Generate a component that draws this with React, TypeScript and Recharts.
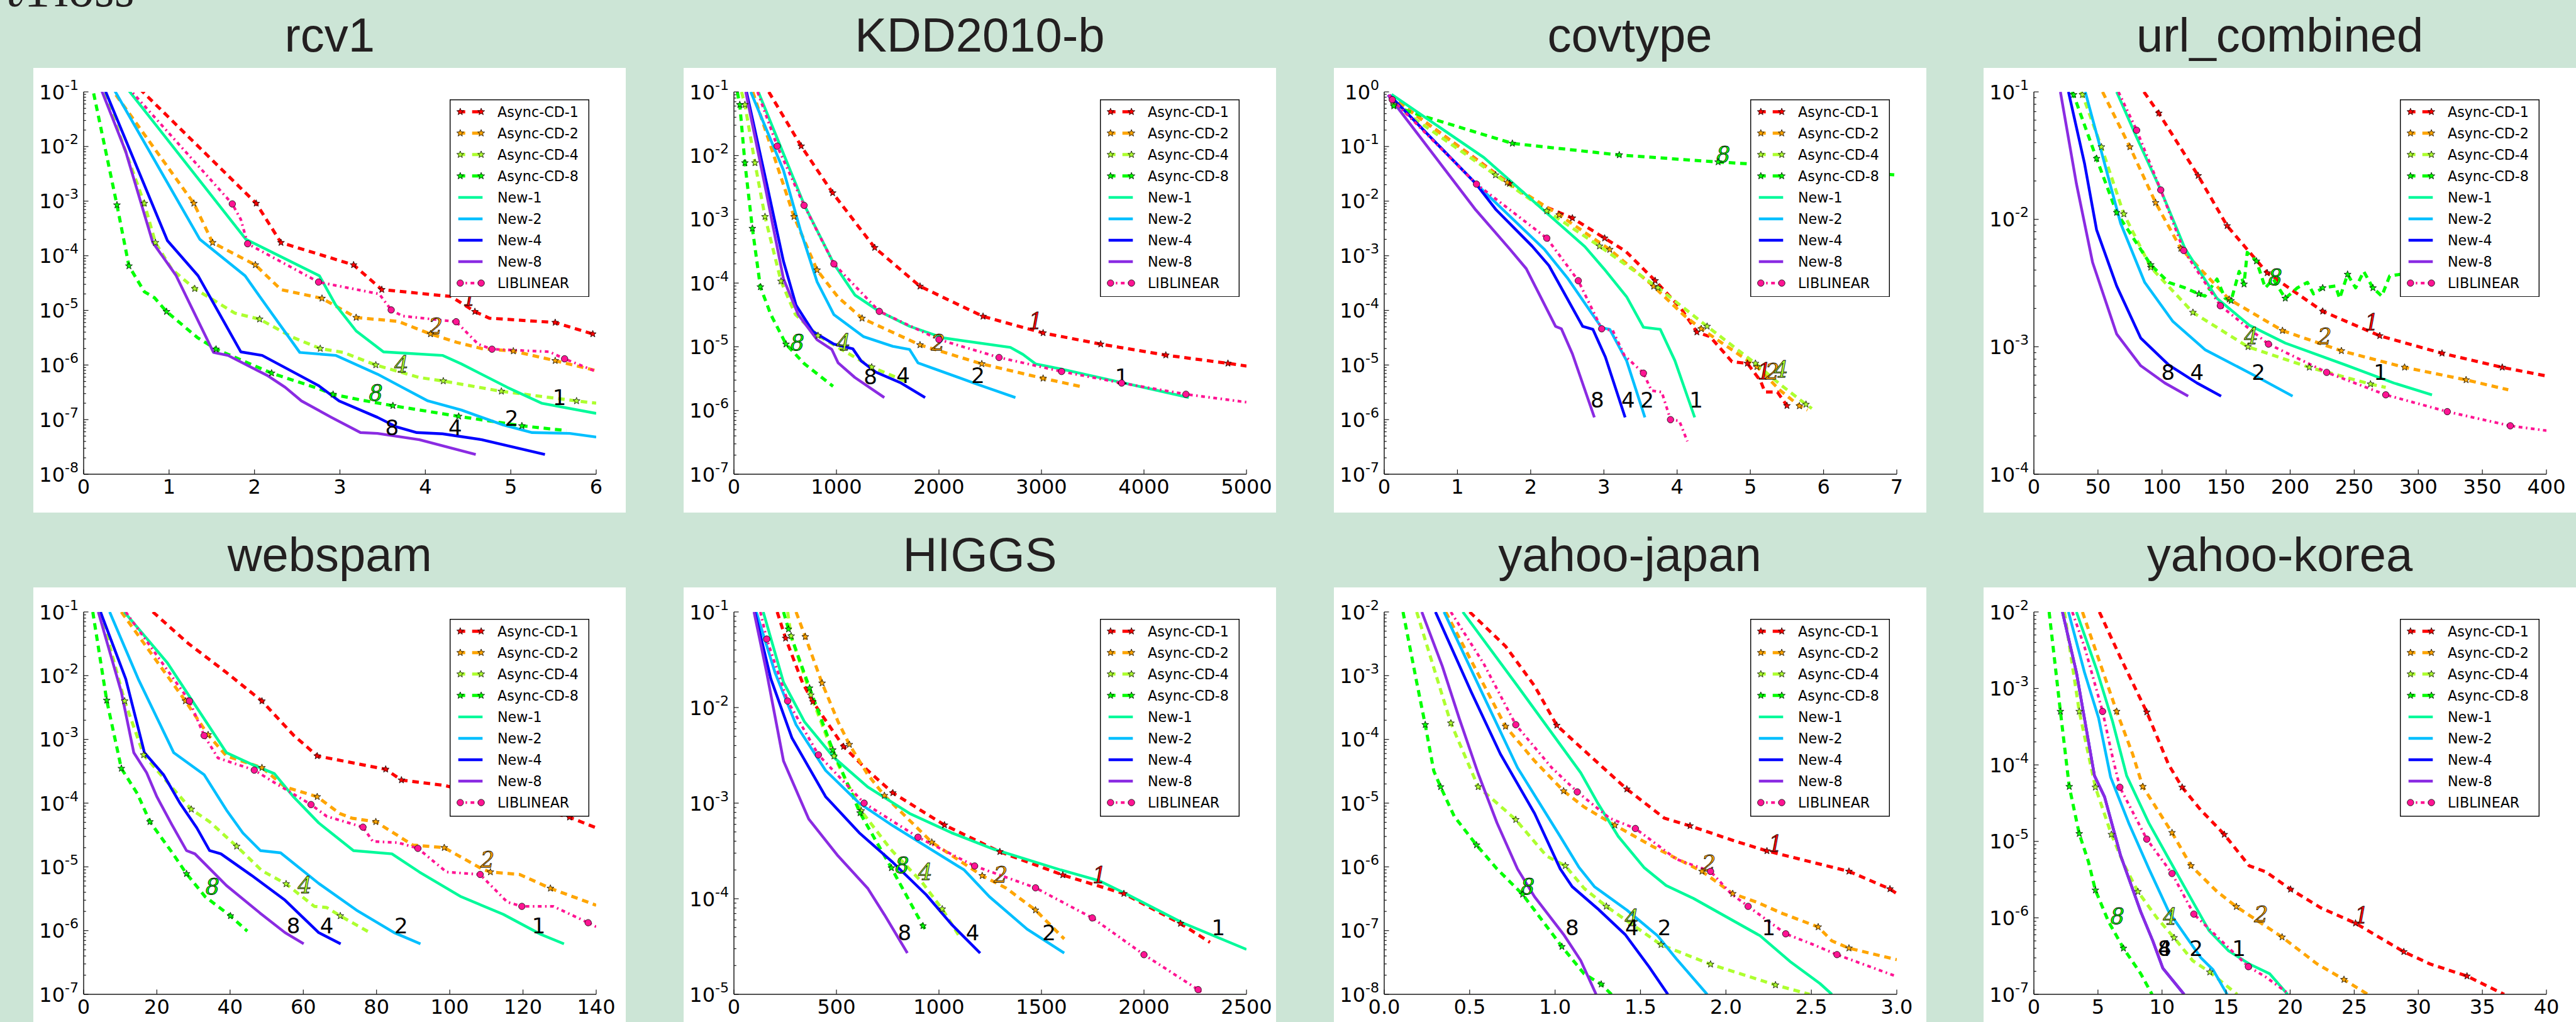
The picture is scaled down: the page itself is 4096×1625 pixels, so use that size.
import React from 'react';
import { LineChart, Line, XAxis, YAxis, Legend, ReferenceDot } from 'recharts';

type P = [number, number, number?];
type Note = [string, number, number];

// ---------------- rcv1 ----------------
const rcv1_xTicks = [0, 1, 2, 3, 4, 5, 6];
const rcv1_xLabels = ['0', '1', '2', '3', '4', '5', '6'];
const rcv1_A1: P[] = [[0.56,0.16],[2.02,9.1e-4,1],[2.31,1.74e-4,1],[3.16,6.8e-5,1],[3.49,2.4e-5,1],[4.30,1.8e-5],[4.58,9.5e-6,1],[4.75,7.2e-6],[5.52,6.0e-6,1],[5.96,3.7e-6,1],[6.1,3.2e-6]];
const rcv1_A2: P[] = [[0.3,0.13],[1.29,9.1e-4,1],[1.51,1.74e-4,1],[2.01,6.8e-5,1],[2.31,2.4e-5],[2.79,1.66e-5,1],[3.19,7.4e-6,1],[3.68,6.3e-6],[4.06,3.7e-6,1],[4.37,2.6e-6],[4.66,2.0e-6],[5.03,1.8e-6,1],[5.52,1.2e-6,1],[6.0,7.9e-7]];
const rcv1_A4: P[] = [[0.2,0.15],[0.71,9.1e-4,1],[0.84,1.74e-4,1],[1.03,5.7e-5],[1.30,2.5e-5,1],[1.77,8.9e-6],[2.06,6.9e-6,1],[2.45,3.2e-6],[2.77,2.0e-6,1],[3.04,1.7e-6],[3.42,1.0e-6,1],[3.93,5.9e-7],[4.21,5.1e-7,1],[4.89,3.3e-7,1],[5.77,2.2e-7,1],[6.0,2.0e-7]];
const rcv1_A8: P[] = [[0.09,0.15],[0.39,8.5e-4,1],[0.53,6.5e-5,1],[0.71,2.2e-5],[0.83,1.7e-5],[0.97,9.5e-6,1],[1.33,3.2e-6],[1.55,1.95e-6,1],[2.20,7.1e-7,1],[2.75,3.7e-7],[2.92,2.9e-7,1],[3.24,2.3e-7],[3.62,1.8e-7,1],[4.39,1.15e-7,1],[5.13,7.7e-8,1],[5.65,6.3e-8]];
const rcv1_N1: P[] = [[0.49,0.126],[1.90,2.0e-4],[2.76,4.3e-5],[2.95,1.26e-5],[3.19,4.2e-6],[3.51,1.74e-6],[4.20,1.5e-6],[4.42,1.05e-6],[4.96,3.9e-7],[5.36,2.0e-7],[6.0,1.3e-7]];
const rcv1_N2: P[] = [[0.33,0.13],[1.36,2.0e-4],[1.89,4.3e-5],[2.06,1.8e-5],[2.53,1.7e-6],[2.95,1.5e-6],[3.44,6.8e-7],[3.73,3.9e-7],[4.03,2.2e-7],[4.42,1.5e-7],[4.91,8.0e-8],[5.25,5.8e-8],[5.69,5.6e-8],[6.0,4.8e-8]];
const rcv1_N4: P[] = [[0.22,0.14],[0.98,1.9e-4],[1.34,4.3e-5],[1.84,1.74e-6],[2.09,1.5e-6],[2.50,6.8e-7],[2.75,4.2e-7],[2.99,2.2e-7],[3.44,1.1e-7],[3.66,7.4e-8],[3.90,5.8e-8],[4.20,5.5e-8],[4.66,4.3e-8],[5.40,2.3e-8]];
const rcv1_N8: P[] = [[0.18,0.14],[0.49,8.3e-3],[0.81,1.74e-4],[1.08,4.4e-5],[1.52,1.7e-6],[1.69,1.5e-6],[2.16,6.3e-7],[2.36,3.9e-7],[2.55,2.2e-7],[2.90,1.1e-7],[3.24,5.8e-8],[3.44,5.6e-8],[3.93,4.3e-8],[4.59,2.3e-8]];
const rcv1_L: P[] = [[0.52,0.12],[1.74,8.9e-4,1],[1.84,4.6e-4],[1.92,1.66e-4,1],[2.75,3.3e-5,1],[3.46,2.0e-5],[3.60,1.02e-5,1],[3.73,7.9e-6],[4.36,6.2e-6,1],[4.62,2.4e-6],[4.78,1.95e-6,1],[5.45,1.75e-6],[5.63,1.3e-6,1],[6.0,7.6e-7]];
const rcv1_notes: Note[] = [['A1',4.52,1.66e-5],['A2',4.12,5.1e-6],['A4',3.72,1.02e-6],['A8',3.42,3.1e-7],['N1',5.57,2.57e-7],['N2',5.01,1.05e-7],['N4',4.35,7.2e-8],['N8',3.61,7.2e-8]];

// ---------------- KDD2010-b ----------------
const kdd_xTicks = [0, 1000, 2000, 3000, 4000, 5000];
const kdd_xLabels = ['0', '1000', '2000', '3000', '4000', '5000'];
const kdd_A1: P[] = [[340,0.1],[656,1.41e-2,1],[963,2.6e-3,1],[1373,3.6e-4,1],[1815,8.9e-5,1],[2430,3.0e-5,1],[3016,1.65e-5,1],[3578,1.1e-5,1],[4213,7.4e-6,1],[4819,5.5e-6,1],[5000,5.0e-6]];
const kdd_A2: P[] = [[184,0.1],[586,1.1e-3,1],[811,1.6e-4,1],[1016,6.0e-5],[1250,2.8e-5,1],[1815,1.07e-5,1],[2418,5.4e-6,1],[3016,3.2e-6,1],[3373,2.4e-6]];
const kdd_A4: P[] = [[74,0.1],[107,6.3e-2,1],[205,7.7e-3,1],[303,1.1e-3,1],[459,1.07e-4,1],[600,3.2e-5],[820,1.5e-5,1],[1344,4.8e-6,1],[1692,2.8e-6]];
const kdd_A8: P[] = [[33,0.1],[57,6.3e-2,1],[107,7.7e-3,1],[180,7.2e-4,1],[258,8.7e-5,1],[360,3.2e-5],[508,1.1e-5,1],[688,5.4e-6],[967,2.4e-6]];
const kdd_N1: P[] = [[238,0.1],[688,1.66e-3],[975,2.0e-4],[1180,6.5e-5],[1418,3.6e-5],[1713,2.1e-5],[2041,1.38e-5],[2697,9.8e-6],[2819,7.6e-6],[2942,5.4e-6],[3188,4.5e-6],[3762,2.8e-6],[4438,1.6e-6]];
const kdd_N2: P[] = [[164,0.1],[483,5.9e-3],[647,6.9e-4],[811,1.05e-4],[975,3.2e-5],[1262,1.45e-5],[1549,1.02e-5],[1713,9.1e-6],[1795,5.6e-6],[1959,4.5e-6],[2369,2.6e-6],[2746,1.6e-6]];
const kdd_N4: P[] = [[123,0.1],[320,3.6e-3],[483,2.2e-4],[606,4.5e-5],[770,1.74e-5],[975,1.1e-5],[1160,9.3e-6],[1242,6.0e-6],[1385,4.0e-6],[1631,2.7e-6],[1865,1.6e-6]];
const kdd_N8: P[] = [[115,0.1],[299,3.6e-3],[483,1.17e-4],[627,3.2e-5],[811,1.29e-5],[955,9.1e-6],[1016,5.6e-6],[1180,3.3e-6],[1467,1.6e-6]];
const kdd_L: P[] = [[230,0.1],[422,1.41e-2,1],[684,1.66e-3,1],[975,2.0e-4,1],[1418,3.6e-5,1],[2000,1.3e-5,1],[2586,6.8e-6,1],[3196,4.1e-6,1],[3782,2.7e-6,1],[4409,1.8e-6,1],[5000,1.35e-6]];
const kdd_notes: Note[] = [['A1',2943,2.5e-5],['A2',1992,1.15e-5],['A4',1070,1.17e-5],['A8',619,1.17e-5],['N1',3782,3.4e-6],['N2',2381,3.55e-6],['N4',1651,3.55e-6],['N8',1332,3.4e-6]];

// ---------------- covtype ----------------
const cov_xTicks = [0, 1, 2, 3, 4, 5, 6, 7];
const cov_xLabels = ['0', '1', '2', '3', '4', '5', '6', '7'];
const cov_A1: P[] = [[0.07,0.85],[1.71,2.1e-2,1],[2.1,9.0e-3],[2.57,4.9e-3,1],[3.01,2.1e-3,1],[3.3,1.2e-3],[3.70,3.5e-4,1],[4.05,1.1e-4],[4.27,4.0e-5,1],[4.45,3.3e-5],[4.75,1.15e-5],[4.96,1.07e-5,1],[5.14,5.1e-6],[5.20,3.2e-6],[5.37,3.2e-6],[5.50,1.8e-6,1]];
const cov_A2: P[] = [[0.07,0.85],[1.68,2.2e-2,1],[2.39,5.6e-3,1],[3.08,1.3e-3,1],[3.68,2.75e-4,1],[4.1,8.0e-5],[4.33,4.6e-5,1],[4.6,2.6e-5],[5.09,9.3e-6,1],[5.4,3.5e-6],[5.67,1.78e-6,1],[5.78,1.5e-6]];
const cov_A4: P[] = [[0.07,0.85],[0.13,0.59,1],[1.52,3.0e-2,1],[2.22,6.6e-3,1],[2.94,1.5e-3,1],[3.74,2.6e-4,1],[4.41,5.1e-5,1],[5.07,1.07e-5,1],[5.4,4.5e-6],[5.76,1.9e-6,1],[5.84,1.6e-6]];
const cov_A8: P[] = [[0.07,0.85],[0.13,0.55,1],[0.45,0.39],[1.75,0.114,1],[3.21,0.07,1],[4.56,0.052,1],[5.0,0.048],[7.0,0.03]];
const cov_N1: P[] = [[0.10,0.9],[1.36,6.3e-2],[2.74,1.47e-3],[3.0,5.8e-4],[3.31,1.78e-4],[3.54,4.9e-5],[3.77,4.5e-5],[3.97,1.2e-5],[4.24,1.1e-6]];
const cov_N2: P[] = [[0.07,0.88],[1.25,2.1e-2],[2.19,1.3e-3],[2.51,3.8e-4],[2.97,4.8e-5],[3.08,4.5e-5],[3.31,1.2e-5],[3.56,1.1e-6]];
const cov_N4: P[] = [[0.07,0.88],[1.25,2.1e-2],[1.53,6.9e-3],[2.02,1.5e-3],[2.25,6.6e-4],[2.71,5.1e-5],[2.85,4.5e-5],[3.02,1.4e-5],[3.29,1.1e-6]];
const cov_N8: P[] = [[0.05,0.88],[1.25,6.9e-3],[1.71,1.35e-3],[1.94,5.8e-4],[2.34,5.1e-5],[2.42,4.6e-5],[2.57,1.6e-5],[2.87,1.1e-6]];
const cov_L: P[] = [[0.07,0.88],[0.11,0.72,1],[1.26,2.05e-2,1],[2.22,2.1e-3,1],[2.65,3.5e-4,1],[2.97,4.6e-5,1],[3.12,4.3e-5],[3.28,1.5e-5],[3.54,7.1e-6,1],[3.65,3.4e-6],[3.79,3.2e-6],[3.91,1.0e-6,1],[4.03,9.5e-7],[4.14,4.0e-7]];
const cov_notes: Note[] = [['A8',4.63,0.071],['A1',5.19,7.6e-6],['A2',5.30,7.6e-6],['A4',5.42,8.1e-6],['N8',2.91,2.3e-6],['N4',3.33,2.3e-6],['N2',3.59,2.3e-6],['N1',4.26,2.3e-6]];

// ---------------- url_combined ----------------
const url_xTicks = [0, 50, 100, 150, 200, 250, 300, 350, 400];
const url_xLabels = ['0', '50', '100', '150', '200', '250', '300', '350', '400'];
const url_A1: P[] = [[85.9,0.1],[97.5,6.8e-2,1],[128.2,2.2e-2,1],[150.8,8.9e-3,1],[182.1,3.8e-3,1],[225.4,1.9e-3,1],[269.9,1.22e-3,1],[318.5,8.9e-4,1],[365.5,6.9e-4,1],[400,5.9e-4]];
const url_A2: P[] = [[53.6,0.1],[74.9,3.7e-2,1],[95,1.35e-2,1],[114.7,5.9e-3,1],[152.4,2.36e-3,1],[194,1.34e-3,1],[240,9.3e-4,1],[289.3,6.9e-4,1],[337.3,5.5e-4,1],[370.2,4.6e-4]];
const url_A4: P[] = [[36.5,0.1],[37.9,9.5e-2,1],[52.7,3.7e-2,1],[70.2,1.1e-2,1],[91.2,4.2e-3,1],[124.1,1.86e-3,1],[167.1,1.0e-3,1],[215,6.9e-4,1],[262.7,5.1e-4,1],[274.6,4.8e-4]];
const url_A8: P[] = [[29.5,0.1],[31,9.5e-2,1],[48.9,3.0e-2,1],[64.6,1.13e-2,1],[91.2,4.4e-3,1],[105.3,3.2e-3],[117.9,2.9e-3],[128.8,2.6e-3,1],[133.5,2.5e-3],[142.9,3.4e-3],[149.2,2.4e-3],[153.9,2.3e-3,1],[160.2,3.9e-3],[164,3.1e-3,1],[166.5,5.5e-3],[173.7,4.7e-3,1],[180.6,2.9e-3],[186.8,3.4e-3],[196.2,2.4e-3,1],[205.6,2.9e-3],[213.5,3.2e-3],[218.2,2.6e-3],[225.4,2.9e-3,1],[235.4,3.0e-3],[238.6,2.4e-3],[244.8,3.7e-3,1],[251.1,2.9e-3],[257.4,3.9e-3],[264.6,2.9e-3,1],[271.5,2.5e-3],[277.7,3.6e-3],[285.6,3.7e-3],[300,3.5e-3]];
const url_N1: P[] = [[64.6,0.1],[80.2,4.4e-2],[99,1.7e-2],[117.9,5.9e-3],[142.9,2.4e-3],[168,1.48e-3],[196.2,1.07e-3],[243.3,7.2e-4],[280.9,5.2e-4],[310.7,4.2e-4]];
const url_N2: P[] = [[40.1,0.1],[52,3.6e-2],[67.7,9.3e-3],[86.5,3.2e-3],[108.5,1.58e-3],[133.5,9.5e-4],[174.3,5.8e-4],[201.9,4.1e-4]];
const url_N4: P[] = [[27,0.1],[39.5,2.75e-2],[48.9,8.3e-3],[64.6,3.0e-3],[83.4,1.17e-3],[105.3,7.2e-4],[127.3,5.2e-4],[146.1,4.1e-4]];
const url_N8: P[] = [[20.7,0.1],[33.2,1.9e-2],[45.8,4.6e-3],[64.6,1.26e-3],[83.4,7.1e-4],[102.2,5.2e-4],[120.4,4.1e-4]];
const url_L: P[] = [[66,0.1],[80.2,5.0e-2,1],[99,1.7e-2,1],[116.9,5.7e-3,1],[145.5,2.1e-3,1],[183.1,1.05e-3,1],[228.5,6.3e-4,1],[274.6,4.2e-4,1],[322.6,3.1e-4,1],[371.8,2.4e-4,1],[400,2.2e-4]];
const url_notes: Note[] = [['A1',263.6,1.55e-3],['A2',227,1.2e-3],['A4',169.6,1.2e-3],['A8',188.4,3.5e-3],['N1',270.5,6.3e-4],['N2',175.2,6.3e-4],['N4',127.3,6.3e-4],['N8',104.7,6.3e-4]];

// ---------------- webspam ----------------
const web_xTicks = [0, 20, 40, 60, 80, 100, 120, 140];
const web_xLabels = ['0', '20', '40', '60', '80', '100', '120', '140'];
const web_A1: P[] = [[18.9,0.1],[28.6,3.2e-2],[39,1.12e-2],[48.7,4.0e-3,1],[57.3,1.17e-3],[63.8,5.5e-4,1],[82.5,3.4e-4,1],[86.8,2.3e-4,1],[98.5,1.9e-4],[132.7,6.0e-5,1],[140,4.1e-5]];
const web_A2: P[] = [[10.3,0.1],[27.8,4.0e-3,1],[34,1.18e-3,1],[39,5.5e-4],[48.7,3.6e-4,1],[55,1.8e-4],[63.8,1.26e-4,1],[69.9,6.9e-5],[73.3,5.8e-5],[79.8,5.1e-5,1],[89.9,2.2e-5],[98.5,2.0e-5,1],[108.8,9.3e-6],[111.1,8.3e-6,1],[119.1,7.6e-6],[127.5,4.6e-6,1],[140,2.5e-6]];
const web_A4: P[] = [[4.6,0.1],[11.2,4.0e-3,1],[16.4,5.7e-4,1],[25.2,1.5e-4],[29.4,8.0e-5,1],[34.4,5.1e-5],[41.8,2.1e-5,1],[48.7,8.7e-6],[55.3,5.4e-6,1],[63,2.4e-6],[66.4,2.3e-6],[70.1,1.7e-6,1],[78.2,9.3e-7]];
const web_A8: P[] = [[2.5,0.1],[6.3,4.1e-3,1],[10.3,3.5e-4,1],[14.7,1.4e-4],[18.1,5.1e-5,1],[24.1,1.7e-5],[28.1,7.8e-6,1],[33.2,3.4e-6],[40.1,1.7e-6,1],[44.7,9.8e-7]];
const web_N1: P[] = [[11.1,0.1],[22.9,1.58e-2],[39,6.2e-4],[45.8,4.1e-4],[52.1,2.9e-4],[57.3,1.26e-4],[64.2,4.9e-5],[73.7,1.8e-5],[84.2,1.6e-5],[91.7,8.3e-6],[103.1,3.4e-6],[114.6,1.8e-6],[124.9,8.7e-7],[131.2,6.2e-7]];
const web_N2: P[] = [[7.1,0.1],[14.9,8.9e-3],[24.6,6.2e-4],[32.9,2.8e-4],[39,7.8e-5],[43.5,3.4e-5],[48.3,1.8e-5],[53.8,1.66e-5],[64.2,5.5e-6],[74.5,2.1e-6],[84.8,9.3e-7],[92,6.2e-7]];
const web_N4: P[] = [[4.6,0.1],[11.5,8.9e-3],[16.6,6.2e-4],[21.8,2.8e-4],[26.3,1.0e-4],[30.9,4.1e-5],[34.4,1.8e-5],[37.5,1.6e-5],[45.8,7.4e-6],[55,3.0e-6],[64.2,9.3e-7],[70.2,6.2e-7]];
const web_N8: P[] = [[4.0,0.1],[10.3,5.5e-3],[13.7,6.2e-4],[17.2,3.0e-4],[20,1.26e-4],[24.1,4.6e-5],[28.1,1.8e-5],[30.4,1.6e-5],[39,5.1e-6],[48.1,1.9e-6],[55,9.3e-7],[60.1,6.2e-7]];
const web_L: P[] = [[11.5,0.1],[28.9,4.0e-3,1],[32.9,1.15e-3,1],[36.7,5.1e-4],[46.6,3.3e-4,1],[52.7,2.0e-4],[62.1,9.5e-5,1],[66.4,6.2e-5],[76.3,4.2e-5,1],[79,2.5e-5],[85.9,2.4e-5],[91.3,1.95e-5,1],[99.1,8.3e-6],[108.3,7.6e-6,1],[115.7,2.8e-6],[119.7,2.4e-6,1],[128.3,2.4e-6],[137.8,1.33e-6,1],[140,1.15e-6]];
const web_notes: Note[] = [['A2',110.3,1.29e-5],['A4',60.4,5.1e-6],['A8',35.2,4.9e-6],['N1',124.3,1.2e-6],['N2',86.7,1.2e-6],['N4',66.4,1.2e-6],['N8',57.3,1.2e-6]];

// ---------------- HIGGS ----------------
const hig_xTicks = [0, 500, 1000, 1500, 2000, 2500];
const hig_xLabels = ['0', '500', '1000', '1500', '2000', '2500'];
const hig_A1: P[] = [[211,0.1],[252,5.3e-2,1],[334,1.83e-2],[385,1.15e-2,1],[535,3.9e-3,1],[652,2.2e-3],[775,1.28e-3,1],[1027,5.9e-4,1],[1297,3.1e-4,1],[1604,1.77e-4,1],[1768,1.38e-4],[1902,1.13e-4,1],[2178,5.5e-5,1],[2322,3.5e-5]];
const hig_A2: P[] = [[303,0.1],[348,5.5e-2,1],[430,1.8e-2,1],[508,7.1e-3],[563,4.1e-3,1],[652,2.0e-3],[734,1.2e-3,1],[965,3.9e-4,1],[1211,1.74e-4,1],[1328,1.29e-4],[1471,7.6e-5,1],[1611,3.8e-5]];
const hig_A4: P[] = [[262,0.1],[279,5.6e-2,1],[375,1.35e-2,1],[488,3.1e-3,1],[621,8.3e-4,1],[764,3.3e-4],[918,1.48e-4],[1016,7.8e-5,1],[1098,4.1e-5]];
const hig_A8: P[] = [[242,0.1],[266,6.6e-2,1],[369,1.6e-2,1],[482,3.6e-3,1],[615,7.9e-4,1],[768,2.1e-4,1],[922,5.2e-5,1],[938,4.6e-5]];
const hig_N1: P[] = [[143,0.1],[242,1.83e-2],[344,7.1e-3],[488,3.0e-3],[652,1.48e-3],[857,7.8e-4],[1061,4.9e-4],[1266,3.3e-4],[1594,2.0e-4],[1779,1.55e-4],[1922,1.1e-4],[2188,5.6e-5],[2500,2.95e-5]];
const hig_N2: P[] = [[109,0.1],[201,2.3e-2],[303,6.6e-3],[447,2.2e-3],[611,1.0e-3],[775,5.8e-4],[959,3.3e-4],[1123,2.0e-4],[1246,1.05e-4],[1430,4.8e-5],[1611,2.7e-5]];
const hig_N4: P[] = [[102,0.1],[180,2.0e-2],[283,4.8e-3],[447,1.17e-3],[611,4.9e-4],[775,2.4e-4],[938,1.1e-4],[1061,5.4e-5],[1201,2.7e-5]];
const hig_N8: P[] = [[98,0.1],[160,2.3e-2],[242,2.75e-3],[365,6.8e-4],[508,2.8e-4],[652,1.29e-4],[734,6.8e-5],[846,2.7e-5]];
const hig_L: P[] = [[129,0.1],[160,5.2e-2,1],[262,1.17e-2,1],[412,3.2e-3,1],[635,1.0e-3,1],[898,4.4e-4,1],[1174,2.2e-4,1],[1471,1.3e-4,1],[1748,6.3e-5,1],[2000,2.6e-5,1],[2264,1.12e-5,1],[2291,1.0e-5]];
const hig_notes: Note[] = [['A1',1783,1.74e-4],['A2',1301,1.78e-4],['A4',934,1.9e-4],['A8',820,2.24e-4],['N1',2363,5.0e-5],['N2',1537,4.4e-5],['N4',1164,4.4e-5],['N8',832,4.4e-5]];

// ---------------- yahoo-japan ----------------
const jp_xTicks = [0, 0.5, 1, 1.5, 2, 2.5, 3];
const jp_xLabels = ['0.0', '0.5', '1.0', '1.5', '2.0', '2.5', '3.0'];
const jp_A1: P[] = [[0.5,1e-2],[0.71,2.9e-3],[0.88,6.9e-4],[1.01,1.66e-4,1],[1.12,8.9e-5],[1.32,2.9e-5],[1.42,1.66e-5,1],[1.64,5.8e-6],[1.79,4.4e-6,1],[2.06,2.5e-6],[2.24,1.78e-6,1],[2.72,8.5e-7,1],[2.96,4.5e-7,1],[3.0,3.8e-7]];
const jp_A2: P[] = [[0.36,1e-2],[0.71,1.6e-4,1],[0.88,4.6e-5],[1.05,1.55e-5,1],[1.17,8.7e-6],[1.35,4.5e-6,1],[1.57,2.1e-6],[1.86,8.5e-7,1],[2.04,3.8e-7,1],[2.18,2.8e-7],[2.33,1.86e-7],[2.54,1.14e-7,1],[2.62,6.9e-8],[2.72,5.3e-8,1],[3.0,3.5e-8]];
const jp_A4: P[] = [[0.19,1e-2],[0.31,8.9e-4],[0.39,1.8e-4,1],[0.51,3.2e-5],[0.55,1.8e-5,1],[0.66,1.0e-5],[0.77,5.5e-6,1],[0.95,1.48e-6],[1.06,1.04e-6,1],[1.17,4.6e-7],[1.30,2.4e-7,1],[1.62,6.0e-8,1],[1.91,2.96e-8,1],[2.29,1.4e-8,1],[2.49,1e-8]];
const jp_A8: P[] = [[0.11,1e-2],[0.19,7.9e-4],[0.24,1.7e-4,1],[0.29,3.2e-5],[0.33,1.8e-5,1],[0.41,6.2e-6],[0.54,2.2e-6,1],[0.66,9.3e-7],[0.81,3.7e-7,1],[1.04,5.6e-8,1],[1.17,2.1e-8],[1.27,1.44e-8,1],[1.33,1e-8]];
const jp_N1: P[] = [[0.46,1e-2],[0.78,6.9e-4],[1.15,3.0e-5],[1.25,1.0e-5],[1.37,3.0e-6],[1.52,9.8e-7],[1.65,5.1e-7],[1.81,3.2e-7],[2.20,8.3e-8],[2.38,3.2e-8],[2.55,1.48e-8],[2.62,1e-8]];
const jp_N2: P[] = [[0.35,1e-2],[0.58,4.9e-4],[0.78,3.6e-5],[1.03,3.0e-6],[1.14,9.8e-7],[1.23,4.9e-7],[1.42,2.1e-7],[1.60,8.3e-8],[1.71,3.6e-8],[1.89,1e-8]];
const jp_N4: P[] = [[0.30,1e-2],[0.51,5.5e-4],[0.68,5.9e-5],[0.88,6.9e-6],[1.03,9.3e-7],[1.10,4.9e-7],[1.25,2.2e-7],[1.41,8.7e-8],[1.55,2.7e-8],[1.66,1e-8]];
const jp_N8: P[] = [[0.22,1e-2],[0.34,1.41e-3],[0.44,2.1e-4],[0.55,2.9e-5],[0.66,4.9e-6],[0.78,9.3e-7],[0.88,3.4e-7],[1.05,8.7e-8],[1.15,3.4e-8],[1.24,1e-8]];
const jp_L: P[] = [[0.39,1e-2],[0.58,1.58e-3],[0.77,1.7e-4,1],[0.98,3.6e-5],[1.13,1.5e-5,1],[1.32,5.8e-6],[1.47,4.0e-6,1],[1.71,1.32e-6],[1.91,8.5e-7,1],[2.03,3.8e-7],[2.13,2.4e-7,1],[2.35,8.9e-8,1],[2.50,6.2e-8],[2.65,4.2e-8,1],[3.0,1.9e-8]];
const jp_notes: Note[] = [['A1',2.29,2.3e-6],['A2',1.90,1.12e-6],['A4',1.45,1.58e-7],['A8',0.84,4.9e-7],['N1',2.25,1.1e-7],['N2',1.64,1.1e-7],['N4',1.45,1.1e-7],['N8',1.10,1.1e-7]];

// ---------------- yahoo-korea ----------------
const kr_xTicks = [0, 5, 10, 15, 20, 25, 30, 35, 40];
const kr_xLabels = ['0', '5', '10', '15', '20', '25', '30', '35', '40'];
const kr_A1: P[] = [[5.11,1e-2],[6.77,2.5e-3],[8.81,4.9e-4,1],[10.5,1.02e-4],[11.57,5.1e-5,1],[13.0,2.6e-5],[14.86,1.23e-5,1],[16.8,4.8e-6],[18.1,4.0e-6],[20.03,2.36e-6,1],[22.4,1.35e-6],[25.1,8.5e-7,1],[28.87,3.6e-7,1],[30.9,2.5e-7],[33.8,1.73e-7,1],[36.7,1e-7]];
const kr_A2: P[] = [[3.79,1e-2],[6.46,5.0e-4,1],[7.71,1.38e-4],[8.50,5.2e-5,1],[10.78,1.3e-5,1],[12.26,4.8e-6,1],[14.3,2.2e-6],[15.8,1.4e-6,1],[19.37,5.6e-7,1],[22.1,2.5e-7],[24.2,1.56e-7,1],[26.05,1e-7]];
const kr_A4: P[] = [[2.38,1e-2],[3.54,5.0e-4,1],[4.80,5.1e-5,1],[6.05,1.23e-5,1],[7.08,4.8e-6],[8.12,2.2e-6,1],[9.6,1.0e-6],[10.94,5.5e-7,1],[12.4,2.75e-7],[13.73,1.95e-7,1],[15.86,1e-7]];
const kr_A8: P[] = [[1.19,1e-2],[2.07,5.0e-4,1],[2.76,5.2e-5,1],[3.54,1.26e-5,1],[4.26,5.4e-6],[4.80,2.3e-6,1],[5.83,8.9e-7],[6.99,4.0e-7,1],[8.34,1.86e-7],[9.22,1e-7]];
const kr_N1: P[] = [[3.32,1e-2],[4.89,1.78e-3],[6.14,3.7e-4],[7.24,7.2e-5],[8.97,1.74e-5],[10.53,5.9e-6],[12.1,2.0e-6],[13.67,6.8e-7],[15.2,3.7e-7],[16.8,2.5e-7],[18.4,1.86e-7],[19.8,1e-7]];
const kr_N2: P[] = [[2.70,1e-2],[3.95,1.62e-3],[5.05,4.1e-4],[5.99,6.9e-5],[7.40,1.74e-5],[8.97,4.4e-6],[10.53,1.2e-6],[11.94,5.5e-7],[13.04,3.0e-7],[13.98,2.1e-7],[15.08,1e-7]];
const kr_N4: P[] = [[2.23,1e-2],[3.32,1.62e-3],[4.73,7.2e-5],[5.52,3.8e-5],[6.77,6.5e-6],[8.34,1.2e-6],[9.28,5.0e-7],[10.06,2.2e-7],[11.72,1e-7]];
const kr_N8: P[] = [[2.23,1e-2],[3.32,1.62e-3],[4.73,7.2e-5],[5.52,3.8e-5],[6.77,6.5e-6],[8.34,1.2e-6],[9.28,5.0e-7],[10.06,2.2e-7],[11.72,1e-7]];
const kr_L: P[] = [[3.0,1e-2],[3.95,3.5e-3],[5.36,5.0e-4,1],[6.14,1.26e-4],[6.71,5.1e-5,1],[8.81,1.07e-5,1],[10.78,3.8e-6,1],[12.48,1.12e-6,1],[14.92,4.5e-7],[16.74,2.3e-7,1],[18.06,1.7e-7],[19.94,1e-7]];
const kr_notes: Note[] = [['A1',25.58,1.07e-6],['A2',17.74,1.1e-6],['A4',10.63,1.02e-6],['A8',6.52,1.05e-6],['N1',16.0,4.0e-7],['N2',12.66,4.0e-7],['N4',10.2,4.0e-7],['N8',10.2,4.0e-7]];

// ---------------- series ----------------
const S_KEYS = ['A1', 'A2', 'A4', 'A8', 'N1', 'N2', 'N4', 'N8', 'L'];
const S_NAMES = ['Async-CD-1', 'Async-CD-2', 'Async-CD-4', 'Async-CD-8', 'New-1', 'New-2', 'New-4', 'New-8', 'LIBLINEAR'];
const S_COLORS = ['#ff0000', '#ffa500', '#adff2f', '#00ff00', '#00fa9a', '#00bfff', '#0000ff', '#8a2be2', '#ff1493'];

const PANELS = [
  { title: 'rcv1', xDomain: [0, 6], xTicks: rcv1_xTicks, xLabels: rcv1_xLabels, yDomain: [1e-8, 1e-1], series: [rcv1_A1, rcv1_A2, rcv1_A4, rcv1_A8, rcv1_N1, rcv1_N2, rcv1_N4, rcv1_N8, rcv1_L], notes: rcv1_notes },
  { title: 'KDD2010-b', xDomain: [0, 5000], xTicks: kdd_xTicks, xLabels: kdd_xLabels, yDomain: [1e-7, 1e-1], series: [kdd_A1, kdd_A2, kdd_A4, kdd_A8, kdd_N1, kdd_N2, kdd_N4, kdd_N8, kdd_L], notes: kdd_notes },
  { title: 'covtype', xDomain: [0, 7], xTicks: cov_xTicks, xLabels: cov_xLabels, yDomain: [1e-7, 1], series: [cov_A1, cov_A2, cov_A4, cov_A8, cov_N1, cov_N2, cov_N4, cov_N8, cov_L], notes: cov_notes },
  { title: 'url_combined', xDomain: [0, 400], xTicks: url_xTicks, xLabels: url_xLabels, yDomain: [1e-4, 1e-1], series: [url_A1, url_A2, url_A4, url_A8, url_N1, url_N2, url_N4, url_N8, url_L], notes: url_notes },
  { title: 'webspam', xDomain: [0, 140], xTicks: web_xTicks, xLabels: web_xLabels, yDomain: [1e-7, 1e-1], series: [web_A1, web_A2, web_A4, web_A8, web_N1, web_N2, web_N4, web_N8, web_L], notes: web_notes },
  { title: 'HIGGS', xDomain: [0, 2500], xTicks: hig_xTicks, xLabels: hig_xLabels, yDomain: [1e-5, 1e-1], series: [hig_A1, hig_A2, hig_A4, hig_A8, hig_N1, hig_N2, hig_N4, hig_N8, hig_L], notes: hig_notes },
  { title: 'yahoo-japan', xDomain: [0, 3], xTicks: jp_xTicks, xLabels: jp_xLabels, yDomain: [1e-8, 1e-2], series: [jp_A1, jp_A2, jp_A4, jp_A8, jp_N1, jp_N2, jp_N4, jp_N8, jp_L], notes: jp_notes },
  { title: 'yahoo-korea', xDomain: [0, 40], xTicks: kr_xTicks, xLabels: kr_xLabels, yDomain: [1e-7, 1e-2], series: [kr_A1, kr_A2, kr_A4, kr_A8, kr_N1, kr_N2, kr_N4, kr_N8, kr_L], notes: kr_notes },
];

// ---------------- styling / layout ----------------
const BG = '#cce5d6';
const FRAME = '#1a1a1a';
const TICK_FONT = '"DejaVu Sans", Verdana, sans-serif';
const TITLE_FONT = '"Liberation Sans", Arial, Helvetica, sans-serif';
const W_WHITE = 942;
const PLOT_W = 815;
const PLOT_H = 608;
const Y_AXIS_W = 80;
const RIGHT_M = W_WHITE - Y_AXIS_W - PLOT_W;
const X_AXIS_H = 60;
const LEG_W = 222;
const LEG_H = 314.5;

function styleOf(key: string) {
  if (key[0] === 'A') return { w: 5, dash: '10.5 7.6', legendDash: '11 11 30', marker: 'star' };
  if (key[0] === 'N') return { w: 4.4, dash: undefined as any, legendDash: undefined as any, marker: '' };
  return { w: 4.2, dash: '6 5.5 2.5 5.5', legendDash: '6 5.5 2.5 5.5', marker: 'circle' };
}

function starPath(cx: number, cy: number, R: number) {
  const r = R * 0.42;
  let d = '';
  for (let i = 0; i < 10; i++) {
    const a = (-90 + i * 36) * Math.PI / 180;
    const rr = i % 2 === 0 ? R : r;
    d += (i === 0 ? 'M' : 'L') + (cx + rr * Math.cos(a)).toFixed(2) + ' ' + (cy + rr * Math.sin(a)).toFixed(2);
  }
  return d + 'Z';
}

function Marker({ kind, cx, cy, color }: { kind: string; cx: number; cy: number; color: string }) {
  if (kind === 'star') return <path d={starPath(cx, cy, 5.8)} fill={color} stroke="#000" strokeWidth={0.8} />;
  return <circle cx={cx} cy={cy} r={5.2} fill={color} stroke="#000" strokeWidth={0.8} />;
}

function makeDot(kind: string, color: string) {
  return (p: any) => {
    const key = `d${p.index}`;
    if (!p.payload || !p.payload.m || p.cx == null || p.cy == null) return <g key={key} />;
    return <g key={key}><Marker kind={kind} cx={p.cx} cy={p.cy} color={color} /></g>;
  };
}

function logTicks(lo: number, hi: number) {
  const out: number[] = [];
  const e0 = Math.round(Math.log10(lo));
  const e1 = Math.round(Math.log10(hi));
  for (let e = e0; e <= e1; e++) {
    const b = Math.pow(10, e);
    out.push(b);
    if (e < e1) for (let k = 2; k <= 9; k++) out.push(k * b);
  }
  return out;
}

function yTick(side: 'left' | 'right') {
  return (props: any) => {
    const { x, y, payload } = props;
    const v = payload.value;
    const lg = Math.log10(v);
    const e = Math.round(lg);
    const major = Math.abs(lg - e) < 1e-6;
    const len = major ? 7.6 : 3.8;
    const dx = side === 'left' ? len : -len;
    return (
      <g>
        <line x1={x} y1={y} x2={x + dx} y2={y} stroke={FRAME} strokeWidth={1.2} />
        {side === 'left' && major ? (
          <text x={x - 8} y={y + 11.5} textAnchor="end" fontFamily={TICK_FONT} fontSize={32} fill="#000">
            10<tspan dy={-15} fontSize={22}>{String(e)}</tspan>
          </text>
        ) : null}
      </g>
    );
  };
}

function xTick(side: 'bottom' | 'top', ticks: number[], labels: string[]) {
  return (props: any) => {
    const { x, y, payload } = props;
    const idx = ticks.indexOf(payload.value);
    const dy = side === 'bottom' ? -7.6 : 7.6;
    return (
      <g>
        <line x1={x} y1={y} x2={x} y2={y + dy} stroke={FRAME} strokeWidth={1.2} />
        {side === 'bottom' ? (
          <text x={x} y={y + 31} textAnchor="middle" fontFamily={TICK_FONT} fontSize={32} fill="#000">{labels[idx]}</text>
        ) : null}
      </g>
    );
  };
}

function LegendBox(props: any) {
  const items = [...(props.payload || [])].filter((it: any) => S_NAMES.indexOf(it.value) >= 0);
  items.sort((a: any, b: any) => S_NAMES.indexOf(a.value) - S_NAMES.indexOf(b.value));
  return (
    <svg width={LEG_W} height={LEG_H} style={{ display: 'block' }}>
      <rect x={0.7} y={0.7} width={LEG_W - 1.4} height={LEG_H - 1.4} fill="#fff" stroke="#000" strokeWidth={1.4} />
      {items.map((it: any, i: number) => {
        const k = S_NAMES.indexOf(it.value);
        const color = S_COLORS[k];
        const st = styleOf(S_KEYS[k]);
        const cy = 19.7 + i * 34.05;
        return (
          <g key={i}>
            <line x1={13.7} x2={52.3} y1={cy} y2={cy} stroke={color} strokeWidth={st.w} strokeDasharray={st.legendDash} />
            {st.marker ? <Marker kind={st.marker} cx={16.8} cy={cy} color={color} /> : null}
            {st.marker ? <Marker kind={st.marker} cx={50.1} cy={cy} color={color} /> : null}
            <text x={76} y={cy} dominantBaseline="central" fontFamily={TICK_FONT} fontSize={22.2} fill="#000">{it.value}</text>
          </g>
        );
      })}
    </svg>
  );
}

function NoteText(props: any) {
  const { cx, cy, skey } = props;
  if (cx == null || cy == null) return <g />;
  const label = skey.slice(1);
  if (skey[0] === 'A') {
    const k = S_KEYS.indexOf(skey);
    return (
      <text x={cx} y={cy} textAnchor="middle" dominantBaseline="central" fontFamily='"DejaVu Serif", serif' fontStyle="italic" fontSize={35} fill={S_COLORS[k]} stroke="#000" strokeWidth={0.8}>{label}</text>
    );
  }
  return (
    <text x={cx} y={cy} textAnchor="middle" dominantBaseline="central" fontFamily={TICK_FONT} fontSize={34} fill="#000">{label}</text>
  );
}

function toObjs(arr: P[]) {
  return arr.map((p) => ({ x: p[0], y: p[1], m: p[2] ? 1 : 0 }));
}

function Panel({ p, col, row }: { p: any; col: number; row: number }) {
  const left = 53.3 + 1033.6 * col;
  const top = row === 0 ? 108.4 : 934;
  const whiteH = row === 0 ? 706.6 : 1625 - 934;
  const plotTop = row === 0 ? 38.1 : 39;
  const chartH = plotTop + PLOT_H + X_AXIS_H;
  const yTicksAll = logTicks(p.yDomain[0], p.yDomain[1]);
  return (
    <div style={{ position: 'absolute', left, top, width: W_WHITE, height: whiteH, background: '#fff' }}>
      <LineChart width={W_WHITE} height={chartH} margin={{ top: plotTop, right: RIGHT_M, bottom: 0, left: 0 }}>
        <XAxis dataKey="x" type="number" domain={p.xDomain} ticks={p.xTicks} interval={0} allowDataOverflow
          height={X_AXIS_H} tickSize={0} tickMargin={0} tickLine={false}
          axisLine={{ stroke: FRAME, strokeWidth: 1.5 }} tick={xTick('bottom', p.xTicks, p.xLabels)} />
        <XAxis xAxisId="top" orientation="top" dataKey="x" type="number" domain={p.xDomain} ticks={p.xTicks} interval={0} allowDataOverflow
          height={0} tickSize={0} tickMargin={0} tickLine={false}
          axisLine={{ stroke: FRAME, strokeWidth: 1.5 }} tick={xTick('top', p.xTicks, p.xLabels)} />
        <YAxis type="number" scale="log" domain={p.yDomain} ticks={yTicksAll} interval={0} allowDataOverflow
          width={Y_AXIS_W} tickSize={0} tickMargin={0} tickLine={false}
          axisLine={{ stroke: FRAME, strokeWidth: 1.5 }} tick={yTick('left')} />
        <YAxis yAxisId="r" orientation="right" type="number" scale="log" domain={p.yDomain} ticks={yTicksAll} interval={0} allowDataOverflow
          width={0} tickSize={0} tickMargin={0} tickLine={false}
          axisLine={{ stroke: FRAME, strokeWidth: 1.5 }} tick={yTick('right')} />
        {S_KEYS.map((k, i) => {
          const st = styleOf(k);
          return (
            <Line key={k} data={toObjs(p.series[i])} dataKey="y" name={S_NAMES[i]} type="linear"
              stroke={S_COLORS[i]} strokeWidth={st.w} strokeDasharray={st.dash} strokeLinejoin="round"
              dot={st.marker ? makeDot(st.marker, S_COLORS[i]) : false} activeDot={false}
              isAnimationActive={false} legendType="line" />
          );
        })}
        {p.notes.map((n: Note, i: number) => (
          <ReferenceDot key={`n${i}`} x={n[1]} y={n[2]} r={0} ifOverflow="visible"
            shape={(sp: any) => <NoteText cx={sp.cx} cy={sp.cy} skey={n[0]} />} />
        ))}
        <Legend layout="vertical" align="center" verticalAlign="middle"
          content={(lp: any) => <LegendBox {...lp} />}
          wrapperStyle={{ position: 'absolute', left: Y_AXIS_W + PLOT_W - 10.9 - LEG_W, top: plotTop + 11.4, width: LEG_W, height: LEG_H, margin: 0, padding: 0 }} />
      </LineChart>
    </div>
  );
}

export default function App() {
  return (
    <div style={{ position: 'absolute', left: 0, top: 0, width: 4096, height: 1625, background: BG, overflow: 'hidden' }}>
      <svg width={4096} height={1625} style={{ position: 'absolute', left: 0, top: 0 }}>
        <text y={9.5} fontFamily='"Liberation Serif", "DejaVu Serif", serif' fontSize={82} fill="#231f20">
          <tspan x={6} fontStyle="italic">ℓ</tspan>
          <tspan x={38.5}>1</tspan>
          <tspan x={86}>loss</tspan>
        </text>
        {PANELS.map((p, i) => {
          const col = i % 4;
          const row = Math.floor(i / 4);
          const cx = 53.3 + 1033.6 * col + W_WHITE / 2;
          const by = row === 0 ? 81.8 : 907.5;
          return (
            <text key={i} x={cx} y={by} textAnchor="middle" fontFamily={TITLE_FONT} fontSize={76} fill="#231f20">{p.title}</text>
          );
        })}
      </svg>
      {PANELS.map((p, i) => (
        <Panel key={i} p={p} col={i % 4} row={Math.floor(i / 4)} />
      ))}
    </div>
  );
}
